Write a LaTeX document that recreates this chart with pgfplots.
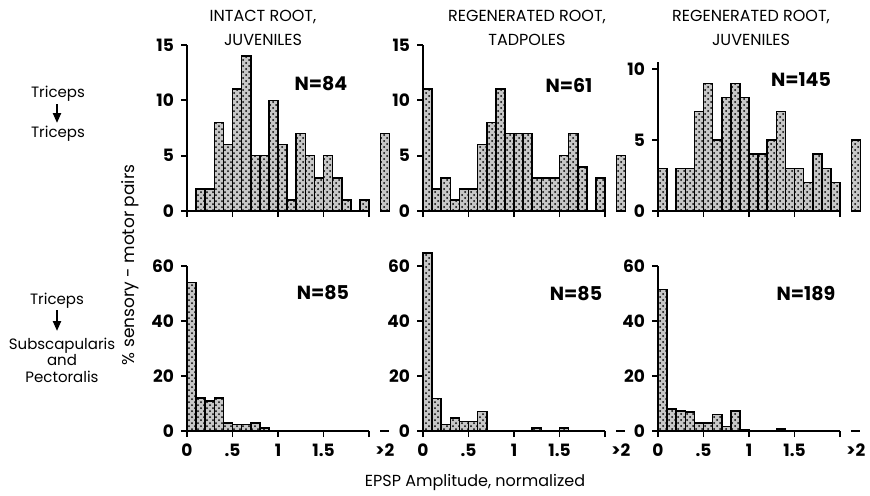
\documentclass[border=0pt]{standalone}
\usepackage{pgfplots}
\pgfplotsset{compat=1.18}
\usepackage{fontspec}
\setmainfont{Poppins}
\usetikzlibrary{arrows.meta,patterns}

% 1 px of the reference = 0.5pt here
\pgfplotsset{
  panel/.style={
    scale only axis, width=91pt, xmin=0, xmax=2, ymin=0,
    anchor=south west, clip=false,
    axis x line*=bottom, axis y line*=left,
    axis line style={line width=1pt},
    tick align=outside, major tick length=3pt,
    tick style={line width=0.9pt, black},
    xtick={0,0.5,1,1.5,2},
    ybar, bar width=0.1, bar shift=0pt,
    /pgf/number format/assume math mode=true,
    ticklabel style={font=\bfseries\fontsize{8.5}{10}\selectfont},
  },
  toprow/.style={panel, height=83pt, xticklabels={}},
  botrow/.style={panel, height=82.5pt, ymax=60, ytick={0,20,40,60},
    xticklabels={0,.5,1,1.5,{}}},
  hist/.style={draw=black, line width=0.8pt, fill=black!22,
    postaction={pattern=crosshatch dots, pattern color=black}},
  dash/.style={sharp plot, no markers, draw=black, line width=1pt},
}
\tikzset{gt/.style={font=\bfseries\fontsize{8.5}{10}\selectfont, yshift=-9.5pt}}

\begin{document}
\begin{tikzpicture}
\path[use as bounding box] (0,0) rectangle (435pt,-247.5pt);

% ---- top row: Triceps -> Triceps
\begin{axis}[toprow, at={(93.5pt,-105.5pt)}, ymax=15, ytick={0,5,10,15}]
\addplot[hist] coordinates {
  (0.15,2) (0.25,2) (0.35,8) (0.45,6) (0.55,11) (0.65,14) (0.75,5) (0.85,5)
  (0.95,10) (1.05,6) (1.15,1) (1.25,7) (1.35,5) (1.45,3) (1.55,5) (1.65,3)
  (1.75,1) (1.95,1) (2.175,7)};
\end{axis}

\begin{axis}[toprow, at={(211.5pt,-105.5pt)}, ymax=15, ytick={0,5,10,15}]
\addplot[hist] coordinates {
  (0.05,11) (0.15,2) (0.25,3) (0.35,1) (0.45,2) (0.55,2) (0.65,6) (0.75,8)
  (0.85,11) (0.95,7) (1.05,7) (1.15,7) (1.25,3) (1.35,3) (1.45,3) (1.55,5)
  (1.65,7) (1.75,4) (1.95,3) (2.175,5)};
\end{axis}

\begin{axis}[toprow, at={(329pt,-105.5pt)}, height=74.5pt, ymax=10.5, ytick={0,5,10}]
\addplot[hist] coordinates {
  (0.05,3) (0.25,3) (0.35,3) (0.45,7) (0.55,9) (0.65,5) (0.75,8) (0.85,9)
  (0.95,8) (1.05,4) (1.15,4) (1.25,5) (1.35,7) (1.45,3) (1.55,3) (1.65,2)
  (1.75,4) (1.85,3) (1.95,2) (2.175,5)};
\end{axis}

% ---- bottom row: Triceps -> Subscapularis and Pectoralis
\begin{axis}[botrow, at={(93.5pt,-215.5pt)}]
\addplot[hist] coordinates {
  (0.05,54) (0.15,12) (0.25,11) (0.35,12) (0.45,3) (0.55,2.3) (0.65,2.3)
  (0.75,3) (0.85,1.2)};
\addplot[dash] coordinates {(2.125,0) (2.225,0)};
\node[gt] at (axis cs:2.175,0) {>2};
\end{axis}

\begin{axis}[botrow, at={(211.5pt,-215.5pt)}, ymax=65, height=89.4pt]
\addplot[hist] coordinates {
  (0.05,64.7) (0.15,11.8) (0.25,2.4) (0.35,4.7) (0.45,3.5) (0.55,3.5)
  (0.65,7.1) (1.25,1.2) (1.55,1.2)};
\addplot[dash] coordinates {(2.125,0) (2.225,0)};
\node[gt] at (axis cs:2.175,0) {>2};
\end{axis}

\begin{axis}[botrow, at={(329pt,-215.5pt)}]
\addplot[hist] coordinates {
  (0.05,51.4) (0.15,8.1) (0.25,7.3) (0.35,6.9) (0.45,2.9) (0.55,2.9)
  (0.65,6) (0.75,1.6) (0.85,7.3) (0.95,0.5) (1.35,0.8)};
\addplot[dash] coordinates {(2.125,0) (2.225,0)};
\node[gt] at (axis cs:2.175,0) {>2};
\end{axis}

% ---- texts
\begin{scope}[every node/.style={font=\fontsize{8}{12}\selectfont, align=center}]
\node at (131.5pt,-14pt) {INTACT ROOT,\\JUVENILES};
\node at (263.5pt,-14pt) {REGENERATED ROOT,\\TADPOLES};
\node at (375.5pt,-14pt) {REGENERATED ROOT,\\JUVENILES};
\end{scope}

\begin{scope}[every node/.style={font=\bfseries\fontsize{9.5}{11}\selectfont}]
\node at (160.5pt,-42pt) {N=84};
\node at (284.5pt,-42.5pt) {N=61};
\node at (400.5pt,-40pt) {N=145};
\node at (161.5pt,-146.5pt) {N=85};
\node at (288pt,-147pt) {N=85};
\node at (403pt,-147pt) {N=189};
\end{scope}

\begin{scope}[every node/.style={font=\fontsize{7.5}{8.3}\selectfont, align=center}]
\node at (29pt,-47pt) {Triceps};
\node at (29pt,-67pt) {Triceps};
\node at (28.5pt,-150.5pt) {Triceps};
\node at (31pt,-180pt) {Subscapularis\\and\\Pectoralis};
\end{scope}
\draw[line width=1.1pt, -{Triangle[length=5pt,width=4pt]}] (28.5pt,-52pt) -- (28.5pt,-61.5pt);
\draw[line width=1.1pt, -{Triangle[length=5pt,width=4pt]}] (28.5pt,-155pt) -- (28.5pt,-165.5pt);

\node[rotate=90, font=\fontsize{8.5}{10}\selectfont] at (65pt,-132.5pt) {\% sensory - motor pairs};
\node[font=\fontsize{8}{10}\selectfont] at (237.5pt,-241pt) {EPSP Amplitude, normalized};
\end{tikzpicture}
\end{document}
